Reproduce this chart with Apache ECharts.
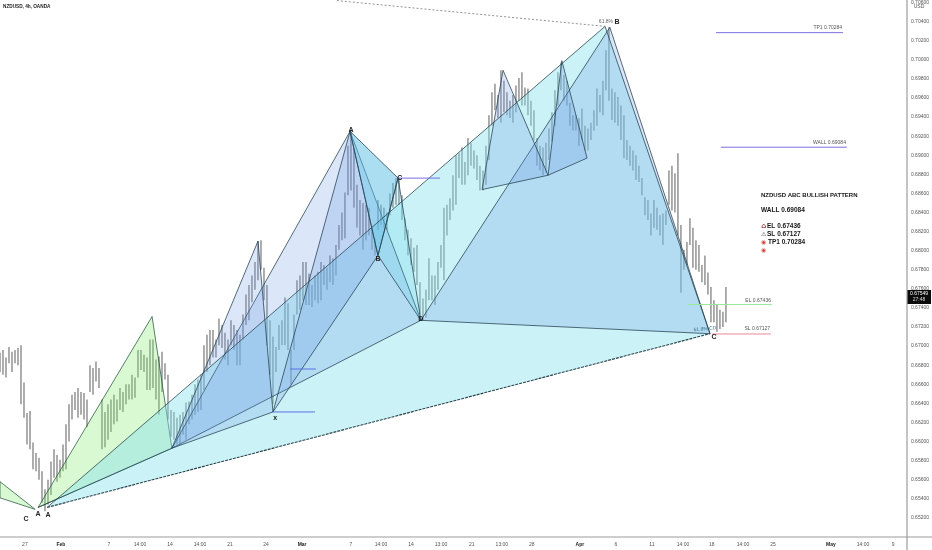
<!DOCTYPE html>
<html><head><meta charset="utf-8">
<style>html,body{margin:0;padding:0;background:#fff}#c{width:932px;height:550px}</style>
<script src="https://cdn.jsdelivr.net/npm/echarts@6/dist/echarts.min.js"></script>
</head><body><div id="c"></div>
<script>
// Prices are in pips (price x 10000); x positions are in bar numbers.
const highs=[6693,6696,6688,6699,6694,6696,6698,6701,6662,6630,6632,6599,6588,6583,6569,6550,6560,6579,6592,6586,6581,6597,6618,6639,6649,6652,6656,6652,6651,6644,6680,6677,6684,6677,6644,6631,6639,6644,6649,6644,6656,6652,6660,6660,6670,6667,6696,6696,6691,6688,6707,6707,6686,6689,6694,6682,6670,6633,6631,6625,6628,6631,6641,6642,6649,6660,6665,6670,6701,6712,6717,6717,6707,6729,6722,6714,6707,6727,6722,6717,6712,6733,6754,6764,6774,6788,6810,6811,6782,6764,6727,6710,6699,6722,6727,6751,6745,6696,6733,6769,6774,6788,6788,6776,6764,6774,6778,6788,6785,6782,6795,6792,6806,6827,6840,6861,6910,6925,6907,6869,6853,6850,6848,6845,6824,6813,6853,6848,6845,6840,6860,6871,6876,6876,6858,6834,6822,6813,6803,6806,6767,6750,6759,6792,6774,6774,6788,6806,6845,6848,6855,6879,6900,6902,6908,6893,6918,6913,6905,6900,6889,6884,6910,6942,6966,6975,6963,6989,6978,6966,6957,6963,6973,6981,6987,6971,6970,6957,6947,6918,6910,6908,6913,6928,6945,6968,6987,6997,6984,6978,6955,6942,6942,6939,6949,6931,6928,6934,6947,6970,6963,6978,7010,7034,6970,6966,6961,6952,6942,6916,6910,6905,6900,6889,6876,6856,6853,6839,6853,6845,6837,6839,6842,6884,6889,6881,6902,6827,6801,6809,6834,6824,6811,6806,6785,6795,6777,6762,6748,6743,6738,6736,6762];
const lows=[6673,6670,6667,6682,6673,6682,6680,6639,6625,6597,6592,6571,6569,6560,6536,6527,6534,6544,6562,6558,6562,6569,6571,6600,6623,6633,6625,6628,6623,6615,6652,6649,6663,6656,6592,6594,6602,6610,6618,6621,6633,6631,6639,6644,6644,6646,6667,6675,6673,6654,6654,6656,6644,6628,6652,6665,6623,6605,6602,6597,6597,6607,6602,6618,6623,6628,6631,6633,6654,6673,6680,6688,6688,6701,6698,6686,6680,6701,6696,6680,6680,6707,6722,6727,6746,6759,6769,6780,6748,6701,6670,6639,6673,6696,6701,6701,6696,6660,6696,6733,6738,6748,6743,6743,6741,6748,6745,6748,6764,6759,6767,6764,6774,6801,6811,6813,6858,6863,6845,6824,6816,6801,6811,6816,6801,6795,6822,6827,6824,6822,6837,6845,6848,6848,6832,6811,6795,6785,6778,6764,6733,6727,6730,6748,6748,6743,6759,6782,6769,6816,6832,6842,6848,6876,6869,6869,6879,6889,6886,6874,6863,6863,6869,6895,6931,6947,6939,6934,6945,6942,6939,6934,6945,6957,6952,6952,6942,6931,6916,6889,6884,6879,6882,6895,6914,6931,6952,6968,6957,6952,6931,6926,6926,6910,6916,6905,6905,6916,6926,6931,6945,6942,6968,6957,6937,6934,6931,6916,6897,6895,6889,6884,6874,6872,6858,6837,6832,6816,6824,6822,6816,6806,6827,6848,6842,6840,6816,6756,6780,6785,6806,6782,6780,6778,6767,6764,6754,6725,6725,6715,6718,6720,6725];
const barStep=1;
const priceTicksInterval=20;
const tickBars=[8.3,20.3,36.3,46.7,56.7,66.7,76.7,88.7,100.7,117,127,137,147,157.3,167.3,177.3,193.3,205.3,217.3,227.7,237.3,247.7,257.7,277,287.7,297.7];
const tickLabels=['27','Feb','7','14:00','14','14:00','21','24','Mar','7','14:00','14','13:00','21','13:00','28','Apr','6','11','14:00','18','14:00','25','May','14:00','9'];
const boldTicks=['Feb','Mar','Apr','May'];

const pts={L1:[0,6558],L2:[11.7,6529],L3:[0,6541],A1:[12.7,6531],GP:[50.7,6731],D0:[57.3,6593],A2:[15.7,6531],B0:[201.7,7035],C:[236.7,6713],B:[203.3,7034],PS:[86,6810],X:[91,6631],A:[116.7,6925],Bp:[126,6795],Cp:[132.7,6876],D:[140.3,6727],M1:[160.7,6864],M2:[167.7,6989],M3:[182.7,6879],M4:[187.3,6999],M5:[195.7,6897]};
const patterns=[
 ['green',['L1','L2','L3']],
 ['green',['A1','GP','D0']],
 ['cyan',['A2','B0','C']],
 ['peri',['D0','A','D']],
 ['peri',['D0','PS','X']],
 ['peri',['X','A','Bp']],
 ['sky',['A','Cp','Bp']],
 ['aqua',['Bp','Cp','D']],
 ['peri',['D','B','C']],
 ['peri',['M1','M2','M3']],
 ['peri',['M3','M4','M5']]
];
const segX=[[15.7,201.7],[201.7,236.7],[12.7,57.3],[112.3,201.7],[15.7,236.7],[132.7,146.7],[91,105],[96.7,105.3],[238.7,281],[240.3,282.3],[229.3,257.3],[237.3,257]];
const segY=[[6531,7035],[7035,6713],[6531,6593],[7062,7035],[6531,6713],[6876,6876],[6631,6631],[6676,6676],[7028.4,7028.4],[6908.4,6908.4],[6743.6,6743.6],[6712.7,6712.7]];
const segKind=['edge','edge','edge','topdash','basedash','purple','blue','blue','purple','purple','elg','slr'];

const noteText=['C','A','A','x','A','C','B','D','61.8%','B','61.8% CD','C','TP1 0.70284','WALL 0.69084','EL 0.67436','SL 0.67127','NZDUSD ABC BULLISH PATTERN','WALL 0.69084','EL 0.67436','SL 0.67127','TP1 0.70284','⌂','⚠','◉','◉'];
const noteBar=[8.7,12.7,16,91.7,117,133.3,126,140.3,202,205.7,235,238,280.7,282,257,256.7,253.7,253.7,255.7,255.7,256,254.6,254.6,254.6,254.6];
const notePips=[6519,6524,6523,6625,6926,6876,6791,6728,7040,7039,6718,6709,7034,6913,6748,6718,6858,6842,6825.5,6817,6809,6825.5,6817,6809,6800];
const noteKind=['pt','pt','pt','pt','pt','pt','pt','pt','pct','pt','cd','pt','lvl','lvl','lvl','lvl','title','head','head','head','head','house','warn','dot','dot'];

const fills={green:'rgba(130,235,110,.30)',cyan:'rgba(130,225,235,.42)',peri:'rgba(105,150,225,.24)',sky:'rgba(90,190,230,.5)',aqua:'rgba(90,210,230,.22)'};
const segStyles={edge:{stroke:'rgba(35,65,75,.85)',lineWidth:.9},topdash:{stroke:'#777',lineWidth:.8,lineDash:[2,2]},basedash:{stroke:'#2a444c',lineWidth:1.1,lineDash:[3,1]},purple:{stroke:'#7a6ee0',lineWidth:1},blue:{stroke:'#5a70e0',lineWidth:1},elg:{stroke:'#9be89b',lineWidth:1},slr:{stroke:'#e88a9a',lineWidth:1}};
const F='"Liberation Sans",Arial,sans-serif';
const noteStyles={
 pt:{font:'bold 7px '+F,fill:'#222',align:'center'},
 pct:{font:'5px '+F,fill:'#666',align:'center'},
 cd:{font:'5px '+F,fill:'#3a6f88',align:'center',rot:.09},
 lvl:{font:'5px '+F,fill:'#555',align:'right'},
 title:{font:'bold 6px '+F,fill:'#161616',align:'left'},
 head:{font:'bold 6.5px '+F,fill:'#161616',align:'left'},
 house:{font:'bold 7px "DejaVu Sans"',fill:'#8e3b3b',align:'center'},
 warn:{font:'6px "DejaVu Sans"',fill:'#444',align:'center'},
 dot:{font:'6px "DejaVu Sans"',fill:'#d64545',align:'center'}
};

const barData=highs.map((h,i)=>[i*barStep,h,lows[i]]);
const chart=echarts.init(document.getElementById('c'),null,{renderer:'canvas'});
chart.setOption({
 animation:false,
 backgroundColor:'#fff',
 title:{text:'NZDUSD, 4h, OANDA',left:3,top:4,padding:0,textStyle:{fontFamily:F,fontSize:4.7,fontWeight:'bold',color:'#222'}},
 grid:{left:0,right:25,top:0,height:537,containLabel:false},
 xAxis:{type:'value',min:0,max:907/3,
  axisLine:{show:false},axisTick:{show:false},splitLine:{show:false},
  axisLabel:{customValues:tickBars,margin:5,color:'#555',fontFamily:F,fontSize:5,hideOverlap:false,
   formatter:v=>{const t=tickLabels[tickBars.indexOf(v)];return boldTicks.includes(t)?'{b|'+t+'}':t;},
   rich:{b:{fontFamily:F,fontSize:5,fontWeight:'bold',color:'#222'}}}},
 yAxis:{type:'value',min:6500,max:7062,interval:priceTicksInterval,position:'right',
  axisLine:{show:false},axisTick:{show:false},splitLine:{show:false},
  axisLabel:{margin:4,color:'#555',fontFamily:F,fontSize:5,showMaxLabel:false,showMinLabel:false,formatter:v=>(v/10000).toFixed(5)}},
 series:[
  {type:'custom',data:barData,silent:true,z:1,
   renderItem:(p,api)=>{const a=api.coord([api.value(0),api.value(1)]),b=api.coord([api.value(0),api.value(2)]);
    return {type:'line',shape:{x1:a[0],y1:a[1],x2:b[0],y2:b[1]},style:{stroke:'#7c7c7c',lineWidth:1.25}};}},
  {type:'custom',data:patterns.map((_,i)=>[i]),silent:true,z:2,clip:true,
   renderItem:(p,api)=>{const d=patterns[p.dataIndex],k=d[0];
    return {type:'polygon',shape:{points:d[1].map(n=>api.coord(pts[n]))},
     style:{fill:fills[k],stroke:k==='cyan'?null:(k==='green'?'rgba(40,90,65,.85)':'rgba(35,65,80,.85)'),lineWidth:.9}};}},
  {type:'custom',data:segX.map((_,i)=>[i]),silent:true,z:3,
   renderItem:(p,api)=>{const i=p.dataIndex,a=api.coord([segX[i][0],segY[i][0]]),b=api.coord([segX[i][1],segY[i][1]]);
    return {type:'line',shape:{x1:a[0],y1:a[1],x2:b[0],y2:b[1]},style:Object.assign({fill:null},segStyles[segKind[i]])};}},
  {type:'custom',data:noteText.map((_,i)=>[i]),silent:true,z:4,clip:false,
   renderItem:(p,api)=>{const i=p.dataIndex,c=api.coord([noteBar[i],notePips[i]]),s=noteStyles[noteKind[i]];
    return {type:'text',x:c[0],y:c[1],rotation:s.rot||0,style:{text:noteText[i],font:s.font,fill:s.fill,align:s.align,verticalAlign:'middle'}};}}
 ],
 graphic:[
  {type:'line',silent:true,z:10,shape:{x1:0,y1:537,x2:932,y2:537},style:{stroke:'#9c9c9c',lineWidth:1.2}},
  {type:'line',silent:true,z:10,shape:{x1:907,y1:0,x2:907,y2:550},style:{stroke:'#9c9c9c',lineWidth:1.2}},
  {type:'text',silent:true,z:10,x:919,y:7,style:{text:'USD',font:'5px '+F,fill:'#555',align:'center',verticalAlign:'middle'}},
  {type:'rect',silent:true,z:10,shape:{x:907.5,y:290,width:23.5,height:14},style:{fill:'#0a0a0a'}},
  {type:'text',silent:true,z:11,x:919,y:294,style:{text:'0.67549',font:'5px '+F,fill:'#fff',align:'center',verticalAlign:'middle'}},
  {type:'text',silent:true,z:11,x:919,y:300,style:{text:'27:48',font:'5px '+F,fill:'#ddd',align:'center',verticalAlign:'middle'}}
 ]
});
</script></body></html>
